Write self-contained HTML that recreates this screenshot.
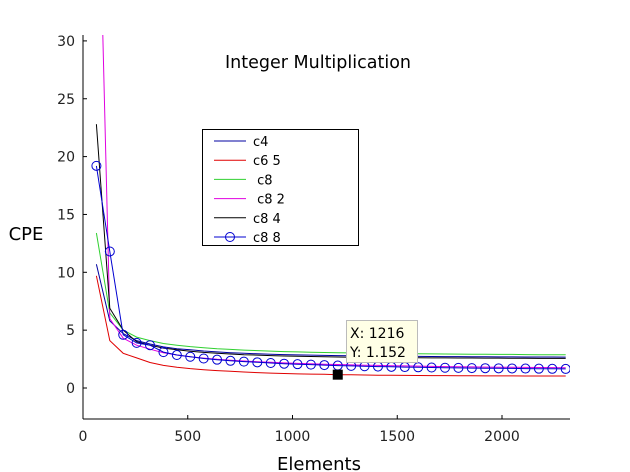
<!DOCTYPE html>
<html><head><meta charset="utf-8"><style>
body{margin:0;background:#fff;}
svg{display:block;font-family:"DejaVu Sans","Liberation Sans",sans-serif;}
</style></head><body>
<svg id="chart" width="630" height="472">
<defs><clipPath id="plotclip"><rect x="83" y="35" width="487" height="384"/></clipPath></defs>
<g id="axes"></g>
<g id="series" clip-path="url(#plotclip)"></g>
<text x="318" y="68" font-size="17.5" text-anchor="middle">Integer Multiplication</text>
<text x="26" y="240" font-size="18" text-anchor="middle">CPE</text>
<text x="319" y="470" font-size="18" text-anchor="middle">Elements</text>
<g id="legend">
<rect x="202.5" y="129.5" width="156" height="116" fill="#fff" stroke="#000"/>
</g>
<g id="tip"></g>
</svg>
<script>
const xs = [64,128,192,256,320,384,448,512,576,640,704,768,832,896,960,1024,1088,1152,1216,1280,1344,1408,1472,1536,1600,1664,1728,1792,1856,1920,1984,2048,2112,2176,2240,2304];
const seriesNames = ["c4","c6 5"," c8"," c8 2","c8 4","c8 8"];
const seriesColors = ["#0000a0","#e00000","#30d030","#e000e0","#000000","#0000d0"];
const c4 = [10.7,5.8,4.7,4.1,3.8,3.55,3.4,3.3,3.2,3.12,3.05,3.0,2.96,2.92,2.89,2.86,2.84,2.82,2.8,2.78,2.77,2.76,2.75,2.74,2.73,2.72,2.71,2.71,2.7,2.7,2.69,2.69,2.68,2.68,2.68,2.67];
const c6_5 = [9.7,4.1,3.0,2.6,2.2,1.95,1.8,1.68,1.58,1.5,1.44,1.38,1.33,1.29,1.25,1.22,1.2,1.18,1.152,1.14,1.12,1.11,1.1,1.09,1.08,1.07,1.07,1.06,1.06,1.05,1.05,1.05,1.04,1.04,1.04,1.04];
const c8 = [13.4,6.5,5.0,4.4,4.1,3.85,3.7,3.58,3.48,3.4,3.34,3.28,3.23,3.19,3.15,3.12,3.09,3.07,3.05,3.03,3.01,3.0,2.98,2.97,2.96,2.95,2.94,2.93,2.92,2.91,2.9,2.9,2.89,2.88,2.88,2.87];
const c8_2 = [53,6.0,4.3,3.7,3.35,3.05,2.85,2.7,2.58,2.48,2.4,2.33,2.27,2.22,2.17,2.13,2.09,2.06,2.03,2.0,1.97,1.95,1.93,1.91,1.89,1.87,1.85,1.84,1.82,1.81,1.8,1.79,1.78,1.77,1.76,1.75];
const c8_4 = [22.8,6.9,5.0,4.0,3.7,3.45,3.3,3.18,3.08,3.0,2.94,2.88,2.84,2.8,2.77,2.74,2.72,2.7,2.68,2.66,2.65,2.64,2.63,2.62,2.61,2.6,2.6,2.59,2.59,2.58,2.58,2.57,2.57,2.56,2.56,2.56];
const c8_8 = [19.2,11.8,4.6,3.9,3.7,3.1,2.85,2.7,2.55,2.45,2.35,2.28,2.22,2.16,2.1,2.06,2.02,1.98,1.94,1.91,1.88,1.85,1.83,1.81,1.79,1.77,1.75,1.74,1.72,1.71,1.7,1.69,1.68,1.67,1.66,1.65];
const xTicks = [0,500,1000,1500,2000];
const yTicks = [0,5,10,15,20,25,30];
const tipX = 1216;
const tipY = 1.152;

const NS="http://www.w3.org/2000/svg";
const X0=83, XPX=0.2095, Y0=388, YPX=11.57;
const sx=v=>X0+v*XPX, sy=v=>Y0-v*YPX;
function mk(tag,attrs,parent){const e=document.createElementNS(NS,tag);for(const k in attrs)e.setAttribute(k,attrs[k]);parent.appendChild(e);return e;}
const axes=document.getElementById('axes');
let e=mk('line',{x1:83,y1:35,x2:83,y2:419,stroke:'#000'},axes);


e=mk('line',{x1:83,y1:419,x2:570,y2:419,stroke:'#000'},axes);


yTicks.forEach(t=>{
  const y=sy(t);
  mk('line',{x1:83,y1:y,x2:87,y2:y,stroke:'#000'},axes);
  const tx=mk('text',{x:75,y:y+5,'font-size':14,'text-anchor':'end',fill:'#222'},axes);
  tx.textContent=t;
  
  
});
xTicks.forEach(t=>{
  const x=sx(t);
  mk('line',{x1:x,y1:419,x2:x,y2:415,stroke:'#000'},axes);
  const tx=mk('text',{x:x,y:441,'font-size':14,'text-anchor':'middle',fill:'#222'},axes);
  tx.textContent=t;
  
  
});
const all=[c4,c6_5,c8,c8_2,c8_4,c8_8];
const sg=document.getElementById('series');
all.forEach((vals,i)=>{
  const pts=vals.map((v,j)=>sx(xs[j]).toFixed(1)+','+sy(v).toFixed(1)).join(' ');
  const pl=mk('polyline',{points:pts,fill:'none',stroke:seriesColors[i],'stroke-width':1},sg);
  
  
});
c8_8.forEach((v,j)=>{
  const c=mk('circle',{cx:sx(xs[j]),cy:sy(v),r:4.5,fill:'none',stroke:'#0000d0'},sg);
  
  
});
const lg=document.getElementById('legend');
seriesNames.forEach((n,i)=>{
  const y=141+i*19.2;
  mk('line',{x1:214,y1:y,x2:246,y2:y,stroke:seriesColors[i]},lg);
  if(i===5) mk('circle',{cx:230,cy:y,r:4.5,fill:'none',stroke:seriesColors[i]},lg);
  const t=mk('text',{x:253,y:y+5,'font-size':13},lg);
  t.setAttribute('style','white-space:pre');
  t.textContent=n;
  
  
});
const tip=document.getElementById('tip');
const mx=sx(tipX), my=sy(tipY);
e=mk('rect',{x:mx-5,y:my-5,width:10,height:10,fill:'#000'},tip);


e=mk('rect',{x:346.5,y:320.5,width:71,height:42,fill:'#ffffe6',stroke:'#bbb'},tip);


let t=mk('text',{x:350,y:338,'font-size':14},tip);t.textContent='X: '+tipX;


t=mk('text',{x:350,y:357,'font-size':14},tip);t.textContent='Y: '+tipY;


</script>
</body></html>
